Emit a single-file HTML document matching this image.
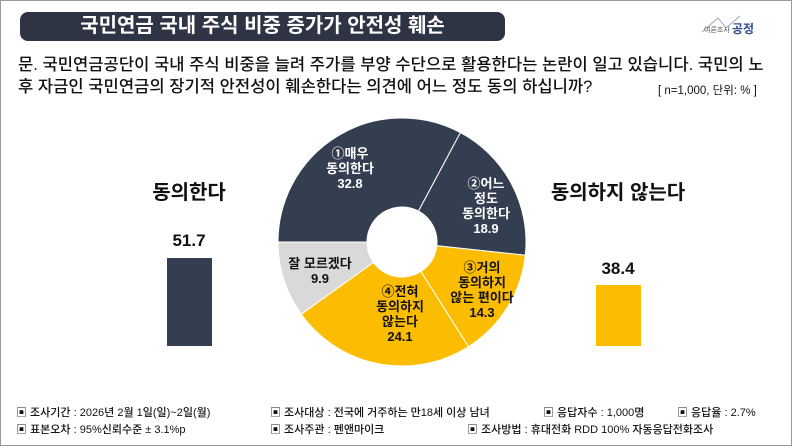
<!DOCTYPE html>
<html><head><meta charset="utf-8"><style>
body{margin:0;width:792px;height:446px;overflow:hidden;background:#fff;font-family:"Liberation Sans","Noto Sans CJK KR",sans-serif;}
.frame{position:absolute;left:0;top:0;width:790px;height:444px;border:1px solid #999;}
.t{position:absolute;white-space:nowrap;color:#111;}
</style></head><body>
<div class="frame"></div>
<div style="position:absolute;left:20px;top:12px;width:485px;height:29px;background:#2e3444;border-radius:8px;"></div>
<div class="t" style="left:20px;top:12px;width:485px;height:29px;line-height:29px;text-align:center;color:#fff;font-size:20px;font-weight:bold;">국민연금 국내 주식 비중 증가가 안전성 훼손</div>
<svg style="position:absolute;left:700px;top:12px" width="60" height="30"><polyline points="2,20 18,6 26,16 40,4" fill="none" stroke="#9ab" stroke-width="1"/></svg>
<div class="t" style="left:704px;top:25px;font-size:7px;color:#555;">여론조사</div>
<div class="t" style="left:732px;top:20px;font-size:12px;font-weight:bold;color:#2d4f8f;">공정</div>
<div class="t" style="left:18px;top:51px;font-size:16.6px;font-weight:500;">문. 국민연금공단이 국내 주식 비중을 늘려 주가를 부양 수단으로 활용한다는 논란이 일고 있습니다. 국민의 노</div>
<div class="t" style="left:18px;top:73px;font-size:16.6px;font-weight:500;">후 자금인 국민연금의 장기적 안전성이 훼손한다는 의견에 어느 정도 동의 하십니까?</div>
<div class="t" style="left:658px;top:82px;font-size:11.5px;">[ n=1,000, 단위: % ]</div>

<svg style="position:absolute;left:0;top:0" width="792" height="446">
<g stroke="#fff" stroke-width="1">
<path d="M278,242 A124,124 0 0 1 460.4,132.6 L418.5,211.1 A35,35 0 0 0 367,242 Z" fill="#343e51"/>
<path d="M460.4,132.6 A124,124 0 0 1 525.3,255.2 L436.8,245.7 A35,35 0 0 0 418.5,211.1 Z" fill="#343e51"/>
<path d="M525.3,255.2 A124,124 0 0 1 468.5,346.7 L420.8,271.5 A35,35 0 0 0 436.8,245.7 Z" fill="#fcbd00"/>
<path d="M468.5,346.7 A124,124 0 0 1 301.2,314.2 L373.5,262.4 A35,35 0 0 0 420.8,271.5 Z" fill="#fcbd00"/>
<path d="M301.2,314.2 A124,124 0 0 1 278,242 L367,242 A35,35 0 0 0 373.5,262.4 Z" fill="#d9d9d9"/>
</g>
<g font-family="Liberation Sans, Noto Sans CJK KR, sans-serif" font-size="13" text-anchor="middle" font-weight="bold">
<text x="350" y="158" fill="#fff">①매우</text>
<text x="350" y="173" fill="#fff">동의한다</text>
<text x="350" y="188" fill="#fff">32.8</text>
<text x="486" y="188" fill="#fff">②어느</text>
<text x="486" y="203" fill="#fff">정도</text>
<text x="486" y="218" fill="#fff">동의한다</text>
<text x="486" y="233" fill="#fff">18.9</text>
<text x="482" y="272" fill="#111">③거의</text>
<text x="482" y="287" fill="#111">동의하지</text>
<text x="482" y="302" fill="#111">않는 편이다</text>
<text x="482" y="317" fill="#111">14.3</text>
<text x="400" y="296" fill="#111">④전혀</text>
<text x="400" y="311" fill="#111">동의하지</text>
<text x="400" y="326" fill="#111">않는다</text>
<text x="400" y="341" fill="#111">24.1</text>
<text x="320" y="268" fill="#111">잘 모르겠다</text>
<text x="320" y="283" fill="#111">9.9</text>
</g>
<rect x="167" y="258" width="45" height="88" fill="#343e51"/>
<rect x="596" y="285" width="45" height="61" fill="#fcbd00"/>
<g font-family="Liberation Sans, Noto Sans CJK KR, sans-serif" font-weight="bold" text-anchor="middle" fill="#111">
<text x="189" y="199" font-size="20">동의한다</text>
<text x="189" y="246" font-size="17">51.7</text>
<text x="618" y="199" font-size="20">동의하지 않는다</text>
<text x="618" y="274" font-size="17">38.4</text>
</g>
</svg>
<div class="t" style="left:16px;top:404px;font-size:11px;font-weight:500;">▣ 조사기간 : 2026년 2월 1일(일)~2일(월)</div>
<div class="t" style="left:270px;top:404px;font-size:11px;font-weight:500;">▣ 조사대상 : 전국에 거주하는 만18세 이상 남녀</div>
<div class="t" style="left:543px;top:404px;font-size:11px;font-weight:500;">▣ 응답자수 : 1,000명</div>
<div class="t" style="left:677px;top:404px;font-size:11px;font-weight:500;">▣ 응답율 : 2.7%</div>
<div class="t" style="left:16px;top:421px;font-size:11px;font-weight:500;">▣ 표본오차 : 95%신뢰수준 ± 3.1%p</div>
<div class="t" style="left:270px;top:421px;font-size:11px;font-weight:500;">▣ 조사주관 : 펜앤마이크</div>
<div class="t" style="left:467px;top:421px;font-size:11px;font-weight:500;">▣ 조사방법 : 휴대전화 RDD 100% 자동응답전화조사</div>
</body></html>
